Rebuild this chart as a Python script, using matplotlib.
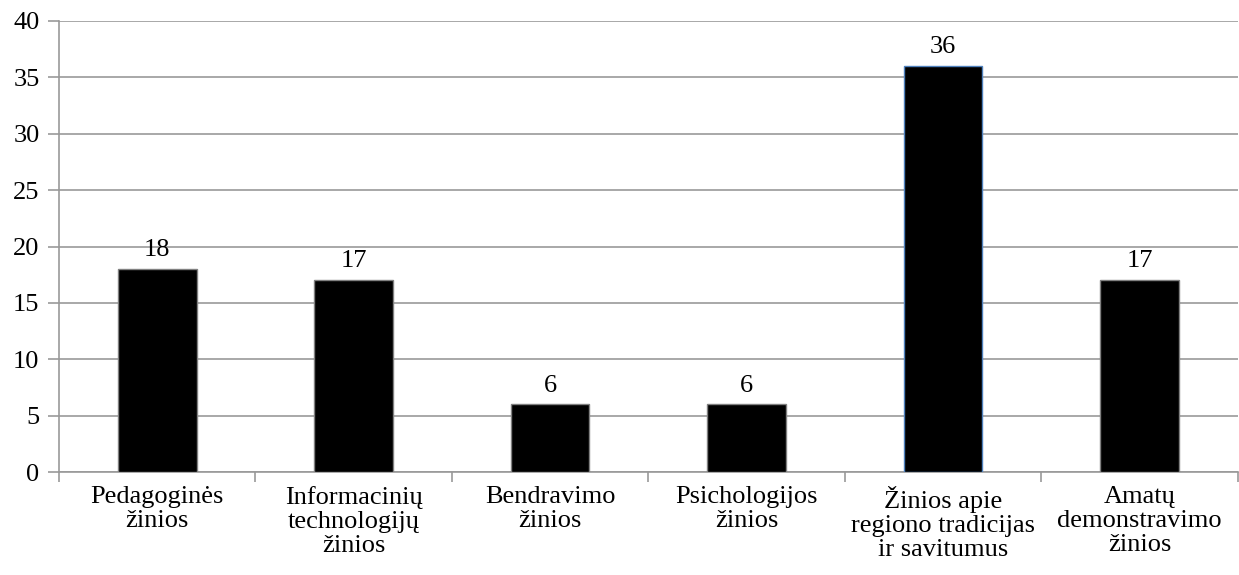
import matplotlib
matplotlib.use("Agg")
import matplotlib.pyplot as plt
from matplotlib import font_manager
from matplotlib.font_manager import FontProperties

categories = ["Pedagoginės\nžinios", "Informacinių\ntechnologijų\nžinios", "Bendravimo\nžinios",
              "Psichologijos\nžinios", "Žinios apie\nregiono tradicijas\nir savitumus", "Amatų\ndemonstravimo\nžinios"]
values = [18, 17, 6, 6, 36, 17]
edge_colors = ["#808080", "#808080", "#808080", "#808080", "#4f81bd", "#808080"]
yticks = [0, 5, 10, 15, 20, 25, 30, 35, 40]

FS = 19
path = font_manager.findfont(FontProperties(family="Liberation Serif"))
fp = FontProperties(fname=path, size=FS)

fig = plt.figure(figsize=(12.39, 5.75), dpi=100)
ax = fig.add_axes([0.0476, 0.179, 0.9514, 0.7845])

x = list(range(len(categories)))
ax.bar(x, values, width=0.4, color="black", edgecolor=edge_colors, linewidth=1.0, zorder=3)
for xi, v in zip(x, values):
    ax.text(xi, v + 0.7, str(v), ha="center", va="bottom", fontproperties=fp)

ax.set_xlim(-0.5, len(categories) - 0.5)
ax.set_ylim(0, 40)
ax.set_yticks(yticks)
ax.set_yticklabels([str(t) for t in yticks], fontproperties=fp)
ax.yaxis.grid(True, color="#999999", linewidth=1.2, zorder=0)
ax.set_axisbelow(True)

ax.set_xticks([i - 0.5 for i in range(len(categories) + 1)], minor=False)
ax.set_xticklabels([])
ax.set_xticks(x, minor=True)
ax.set_xticklabels(categories, minor=True, fontproperties=fp, linespacing=1.12)
ax.tick_params(axis="x", which="minor", length=0, pad=10)
ax.tick_params(axis="x", which="major", length=7, color="#999999", width=1.2)
ax.tick_params(axis="y", length=8, color="#999999", width=1.2, pad=6)

for s in ["top", "right"]:
    ax.spines[s].set_visible(False)
ax.spines["left"].set_color("#999999")
ax.spines["bottom"].set_color("#999999")
ax.spines["left"].set_linewidth(1.2)
ax.spines["bottom"].set_linewidth(1.2)

fig.savefig("out.png", dpi=100)
